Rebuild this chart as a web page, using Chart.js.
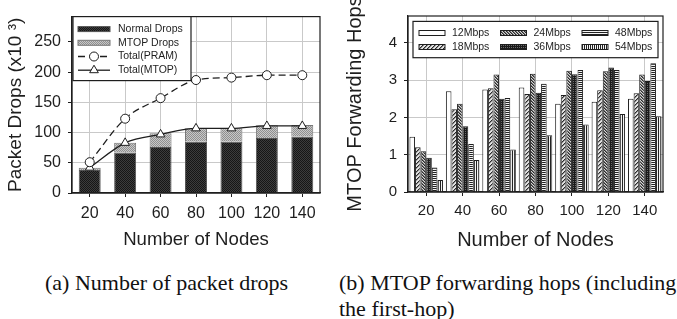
<!DOCTYPE html>
<html>
<head>
<meta charset="utf-8">
<script src="https://cdn.jsdelivr.net/npm/chart.js@4.4.0/dist/chart.umd.min.js"></script>
<style>
  body { margin: 0; background: #fff; width: 677px; height: 319px; position: relative; overflow: hidden; }
  #c1 { position: absolute; left: 0; top: 0; }
  #c2 { position: absolute; left: 340px; top: 0; }
  .cap { position: absolute; font-family: "Liberation Serif", "Times New Roman", serif; font-size: 22px; color: #111; line-height: 26px; white-space: nowrap; }
</style>
</head>
<body>
<canvas id="c1" width="340" height="255"></canvas>
<canvas id="c2" width="337" height="255"></canvas>
<div class="cap" style="left:45px;top:270px">(a) Number of packet drops</div>
<div class="cap" style="left:339px;top:270px">(b) MTOP forwarding hops (including<br>the first-hop)</div>
<script>
// data
const nodes = ["20", "40", "60", "80", "100", "120", "140"];

const normalDrops = [38, 67, 76, 85, 85, 91, 93.5];
const mtopDrops = [4, 16, 23, 22, 22, 21, 19];
const totalPram = [51, 123, 157, 187, 191, 195, 195];
const totalMtop = [42, 83, 97, 107, 107, 111, 111];
const dropTicks = [0, 50, 100, 150, 200, 250];

const rates = ["12Mbps", "18Mbps", "24Mbps", "36Mbps", "48Mbps", "54Mbps"];
const hops12 = [1.48, 2.70, 2.75, 2.80, 2.37, 2.42, 2.50];
const hops18 = [1.20, 2.22, 2.78, 2.63, 2.60, 2.73, 2.65];
const hops24 = [1.09, 2.37, 3.15, 3.17, 3.25, 3.24, 3.15];
const hops36 = [0.92, 1.76, 2.50, 2.66, 3.16, 3.34, 2.98];
const hops48 = [0.66, 1.29, 2.52, 2.90, 3.27, 3.27, 3.45];
const hops54 = [0.32, 0.86, 1.14, 1.52, 1.81, 2.09, 2.03];
const hopTicks = [0, 1, 2, 3, 4];

const FONT = '"Liberation Sans", Arial, Helvetica, sans-serif';
const INK = "#1e1e1e";

// small tiles used as bar fills
function tile(ctx, w, h, draw) {
  const c = document.createElement("canvas");
  c.width = w; c.height = h;
  draw(c.getContext("2d"));
  return ctx.createPattern(c, "repeat");
}
function px(g, col, pts) {
  g.fillStyle = col;
  pts.forEach(p => g.fillRect(p[0], p[1], 1, 1));
}

// draws the full frame round the plot
const frame = {
  id: "frame",
  afterDraw(chart) {
    const a = chart.chartArea, g = chart.ctx;
    g.save();
    g.strokeStyle = INK;
    g.lineWidth = 1.2;
    g.strokeRect(a.left, a.top, a.right - a.left, a.bottom - a.top);
    g.restore();
  }
};

// legend drawn inside the plot, boxed
const boxLegend = {
  id: "boxLegend",
  afterDraw(chart, args, o) {
    const a = chart.chartArea, g = chart.ctx;
    const bx = a.left + o.x, by = a.top + o.y;
    g.save();
    g.fillStyle = "#fff";
    g.fillRect(bx, by, o.w, o.h);
    g.strokeStyle = INK;
    g.lineWidth = 1.2;
    g.strokeRect(bx, by, o.w, o.h);
    g.font = o.fontSize + "px " + FONT;
    g.textBaseline = "middle";
    o.order.forEach((di, k) => {
      const ds = chart.data.datasets[di];
      const col = Math.floor(k / o.rows), row = k % o.rows;
      const sx = bx + o.padX + col * o.colW;
      const sy = by + o.padY + row * o.rowH;
      if (ds.type === "line") {
        g.strokeStyle = ds.borderColor;
        g.lineWidth = ds.borderWidth;
        g.setLineDash(ds.borderDash || []);
        g.beginPath();
        g.moveTo(sx, sy); g.lineTo(sx + o.swW, sy);
        g.stroke();
        g.setLineDash([]);
        const cx = sx + o.swW / 2, r = ds.pointRadius;
        g.fillStyle = "#fff";
        g.lineWidth = 1;
        g.beginPath();
        if (ds.pointStyle === "triangle") {
          g.moveTo(cx, sy - r); g.lineTo(cx + r * 0.87, sy + r * 0.5); g.lineTo(cx - r * 0.87, sy + r * 0.5); g.closePath();
        } else {
          g.arc(cx, sy, r, 0, Math.PI * 2);
        }
        g.fill(); g.stroke();
      } else {
        g.fillStyle = ds.backgroundColor;
        g.fillRect(sx, sy - o.swH / 2, o.swW, o.swH);
        g.strokeStyle = ds.borderColor;
        g.lineWidth = 1;
        g.strokeRect(sx, sy - o.swH / 2, o.swW, o.swH);
      }
      g.fillStyle = INK;
      g.fillText(ds.label, sx + o.textDx, sy);
    });
    g.restore();
  }
};

function axes(o) {
  return {
    x: {
      stacked: o.stacked,
      afterFit: s => { s.height = o.xh; },
      grid: { offset: false, color: "#c9c9c9", borderDash: [4, 3], tickColor: INK, tickLength: 4, tickBorderDash: [] },
      border: { display: true, color: INK, width: 1.2 },
      ticks: { color: INK, font: { family: FONT, size: o.tickSize }, padding: o.xPad, maxRotation: 0 },
      title: { display: true, text: "Number of Nodes", color: INK, font: { family: FONT, size: o.titleSize }, padding: { top: 0, bottom: o.xTitlePad } }
    },
    y: {
      stacked: o.stacked,
      min: 0, max: o.max,
      afterFit: s => { s.width = o.yw; },
      afterBuildTicks: s => { s.ticks = o.ticks.map(v => ({ value: v })); },
      grid: { color: "#c9c9c9", borderDash: [4, 3], tickColor: INK, tickLength: 4, tickBorderDash: [] },
      border: { display: true, color: INK, width: 1.2 },
      ticks: { color: INK, font: { family: FONT, size: o.tickSize }, padding: o.yPad },
      title: { display: true, text: o.yTitle, color: INK, font: { family: FONT, size: o.yTitleSize }, padding: { top: o.yTitlePad, bottom: 0 } }
    }
  };
}

// (a) packet drops
const ctx1 = document.getElementById("c1").getContext("2d");
const darkFill = tile(ctx1, 2, 2, g => { g.fillStyle = "#3c3c3c"; g.fillRect(0, 0, 2, 2); px(g, "#161616", [[0, 0], [1, 1]]); });
const greyFill = tile(ctx1, 2, 2, g => { g.fillStyle = "#c8c8c8"; g.fillRect(0, 0, 2, 2); px(g, "#8f8f8f", [[0, 0], [1, 1]]); });

new Chart(ctx1, {
  type: "bar",
  data: {
    labels: nodes,
    datasets: [
      { label: "Normal Drops", data: normalDrops, backgroundColor: darkFill, borderColor: "#555", borderWidth: 1, stack: "drops", order: 2, categoryPercentage: 1, barPercentage: 0.62 },
      { label: "MTOP Drops", data: mtopDrops, backgroundColor: greyFill, borderColor: "#777", borderWidth: 1, stack: "drops", order: 2, categoryPercentage: 1, barPercentage: 0.62 },
      { type: "line", label: "Total(PRAM)", data: totalPram, stack: "pram", order: 0, borderColor: INK, borderWidth: 1.3, borderDash: [7, 4], cubicInterpolationMode: "monotone",
        pointStyle: "circle", pointRadius: 4.5, pointBackgroundColor: "#fff", pointBorderColor: INK, pointBorderWidth: 1 },
      { type: "line", label: "Total(MTOP)", data: totalMtop, stack: "mtop", order: 0, borderColor: INK, borderWidth: 1.3, cubicInterpolationMode: "monotone",
        pointStyle: "triangle", pointRadius: 5, pointBackgroundColor: "#fff", pointBorderColor: INK, pointBorderWidth: 1 }
    ]
  },
  options: {
    responsive: false, animation: false,
    layout: { padding: { top: 16, right: 20, left: 0, bottom: 0 } },
    scales: axes({ stacked: true, max: 292, ticks: dropTicks, xh: 62, yw: 72, tickSize: 16, titleSize: 18.6, yTitleSize: 19,
      xPad: 7, xTitlePad: 4, yPad: 7, yTitlePad: 4, yTitle: "Packet Drops (x10 \u00b3)" }),
    plugins: {
      legend: { display: false }, tooltip: { enabled: false },
      boxLegend: { x: 1, y: 0, w: 118, h: 64, rows: 4, colW: 0, rowH: 13.7, padX: 5, padY: 12.5, swW: 32, swH: 5, textDx: 40, fontSize: 10.5, order: [0, 1, 2, 3] }
    }
  },
  plugins: [frame, boxLegend]
});

// (b) forwarding hops
const ctx2 = document.getElementById("c2").getContext("2d");
const fill18 = tile(ctx2, 4, 4, g => { g.fillStyle = "#e2e2e2"; g.fillRect(0, 0, 4, 4); px(g, "#2a2a2a", [[3, 0], [2, 1], [1, 2], [0, 3]]); px(g, "#8a8a8a", [[0, 0], [3, 1], [2, 2], [1, 3]]); });
const fill24 = tile(ctx2, 3, 3, g => { g.fillStyle = "#d6d6d6"; g.fillRect(0, 0, 3, 3); px(g, "#2a2a2a", [[0, 0], [1, 1], [2, 2]]); px(g, "#777", [[1, 0], [2, 1], [0, 2]]); });
const fill36 = tile(ctx2, 2, 2, g => { g.fillStyle = "#1a1a1a"; g.fillRect(0, 0, 2, 2); px(g, "#6a6a6a", [[1, 1]]); });
const fill48 = tile(ctx2, 1, 2, g => { g.fillStyle = "#f4f4f4"; g.fillRect(0, 0, 1, 2); px(g, "#222", [[0, 0]]); });
const fill54 = tile(ctx2, 2, 1, g => { g.fillStyle = "#f4f4f4"; g.fillRect(0, 0, 2, 1); px(g, "#222", [[0, 0]]); });

const hopSeries = [hops12, hops18, hops24, hops36, hops48, hops54];
const hopFills = ["#fff", fill18, fill24, fill36, fill48, fill54];

new Chart(ctx2, {
  type: "bar",
  data: {
    labels: nodes,
    datasets: rates.map((r, i) => ({
      label: r, data: hopSeries[i], backgroundColor: hopFills[i], borderColor: INK, borderWidth: 1,
      categoryPercentage: 0.92, barPercentage: 1
    }))
  },
  options: {
    responsive: false, animation: false,
    layout: { padding: { top: 7, right: 14, left: 0, bottom: 0 } },
    scales: axes({ stacked: false, max: 4.72, ticks: hopTicks, xh: 63, yw: 68, tickSize: 15, titleSize: 20, yTitleSize: 20,
      xPad: 6, xTitlePad: 3, yPad: 7, yTitlePad: 3, yTitle: "MTOP Forwarding Hops" }),
    plugins: {
      legend: { display: false }, tooltip: { enabled: false },
      boxLegend: { x: 5, y: 5.4, w: 245, h: 36.3, rows: 2, colW: 81.5, rowH: 14, padX: 6, padY: 11.6, swW: 26, swH: 5, textDx: 33, fontSize: 10.5, order: [0, 1, 2, 3, 4, 5] }
    }
  },
  plugins: [frame, boxLegend]
});
</script>
</body>
</html>
